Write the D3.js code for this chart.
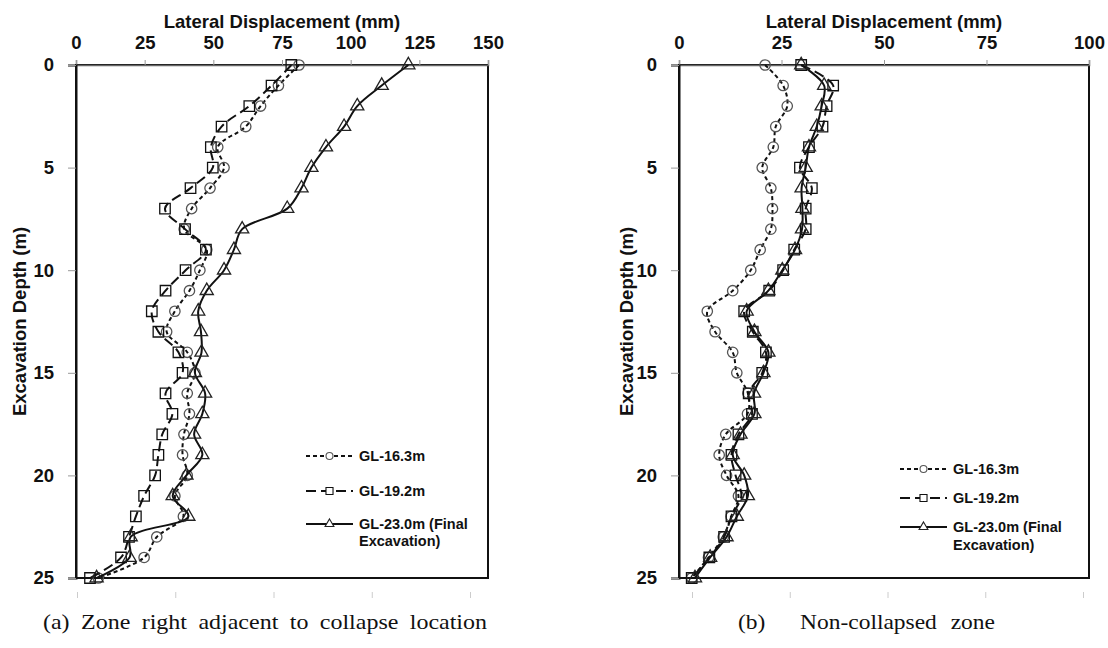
<!DOCTYPE html>
<html>
<head>
<meta charset="utf-8">
<script src="https://cdn.jsdelivr.net/npm/d3@7"></script>
<style>
  body { margin: 0; background: #fff; }
  svg { display: block; }
  text { font-family: "Liberation Sans", Arial, sans-serif; }
  .caption { font-family: "Liberation Serif", "Times New Roman", serif; }
</style>
</head>
<body>
<svg id="chart" width="1108" height="648"></svg>
<script>
const depths = d3.range(0, 26);
const depthTicks = [0, 5, 10, 15, 20, 25];
const seriesNames = ["GL-16.3m", "GL-19.2m", "GL-23.0m (Final", "Excavation)"];

// (a) zone right adjacent to collapse location
const leftTicks = [0, 25, 50, 75, 100, 125, 150];
const leftGL163 = [81.2, 73.7, 67.2, 61.8, 51.6, 53.9, 48.8, 42.1, 39.4, 47.6, 45.1, 41.3, 36.0, 33.0, 40.5, 43.3, 40.5, 41.3, 39.3, 38.8, 40.5, 36.0, 39.1, 29.4, 24.8, 8.1];
const leftGL192 = [78.4, 71.2, 63.1, 53.0, 49.1, 49.8, 41.7, 32.4, 39.7, 47.3, 39.9, 32.6, 27.6, 30.0, 37.3, 38.8, 32.6, 35.1, 31.4, 30.0, 28.8, 24.8, 21.8, 19.3, 16.4, 5.1];
const leftGL230 = [121.0, 111.3, 102.4, 97.6, 91.0, 85.7, 82.1, 76.9, 60.5, 57.5, 53.9, 47.6, 44.5, 45.5, 45.7, 43.3, 47.0, 46.0, 43.0, 46.0, 40.2, 35.2, 40.9, 19.9, 19.5, 7.5];

// (b) non-collapsed zone
const rightTicks = [0, 25, 50, 75, 100];
const rightGL163 = [21.0, 25.4, 26.4, 23.6, 23.0, 20.3, 22.4, 22.8, 22.4, 19.8, 17.5, 13.1, 6.9, 8.8, 13.1, 14.1, 16.8, 16.7, 11.4, 9.8, 11.6, 14.5, 12.7, 10.8, 7.2, 3.1];
const rightGL192 = [29.8, 37.6, 36.0, 35.0, 31.7, 29.5, 32.4, 30.9, 30.9, 28.1, 25.4, 22.0, 15.9, 18.0, 21.2, 20.3, 17.0, 17.8, 14.5, 12.8, 13.8, 15.2, 12.8, 11.0, 7.4, 3.1];
const rightGL230 = [29.8, 35.4, 34.8, 33.6, 31.7, 30.9, 29.9, 30.1, 30.0, 28.3, 25.2, 21.8, 16.5, 18.4, 21.8, 20.6, 18.3, 18.4, 15.0, 13.1, 15.9, 16.8, 14.1, 11.6, 7.6, 3.9];

const svg = d3.select("#chart");

const styles = [
  { symbol: d3.symbolCircle, size: 85, dash: "4,3", marker: "#555" },
  { symbol: d3.symbolSquare, size: 110, dash: "10,5", marker: "#111" },
  { symbol: d3.symbolTriangle, size: 75, dash: null, marker: "#222" },
];

const FS = 18.5;

const drawPanel = ({ left, right, top, bottom, ticks, series, titleY, legend, ghost, yTitleX, caption }) => {
  const x = d3.scaleLinear().domain(d3.extent(ticks)).range([left, right]);
  const y = d3.scaleLinear().domain([0, 25]).range([top, bottom]);
  const g = svg.append("g");

  // frame
  g.append("rect")
    .attr("x", left).attr("y", top)
    .attr("width", right - left).attr("height", bottom - top)
    .attr("fill", "none").attr("stroke", "#111").attr("stroke-width", 2);

  const xAxis = g.append("g")
    .attr("transform", `translate(0,${top})`)
    .call(d3.axisTop(x).tickValues(ticks).tickSize(5).tickPadding(11));
  xAxis.select(".domain").attr("stroke", "#666").attr("stroke-width", 1.5);
  xAxis.selectAll(".tick line").attr("stroke", "#999");
  xAxis.selectAll("text")
    .attr("font-size", FS).attr("font-weight", "bold")
    .attr("font-family", "Liberation Sans, Arial, sans-serif").attr("fill", "#111");

  const yAxis = g.append("g")
    .attr("transform", `translate(${left},0)`)
    .call(d3.axisLeft(y).tickValues(depthTicks).tickSize(8).tickPadding(14));
  yAxis.select(".domain").attr("stroke", "#111").attr("stroke-width", 2);
  yAxis.selectAll(".tick line").attr("stroke", "#999");
  yAxis.selectAll("text")
    .attr("font-size", FS).attr("font-weight", "bold")
    .attr("font-family", "Liberation Sans, Arial, sans-serif").attr("fill", "#111");

  // faint leftover ticks under the plot
  const gx = d3.scaleLinear().domain([0, 4]).range(ghost);
  const gAxis = g.append("g")
    .attr("transform", `translate(0,${bottom + 14})`)
    .call(d3.axisBottom(gx).ticks(4).tickSize(6).tickFormat(""));
  gAxis.select(".domain").remove();
  gAxis.selectAll(".tick line").attr("stroke", "#ccc");

  g.append("text")
    .attr("x", (left + right) / 2).attr("y", titleY)
    .attr("text-anchor", "middle")
    .attr("font-size", FS).attr("font-weight", "bold").attr("fill", "#111")
    .text("Lateral Displacement (mm)");

  g.append("text")
    .attr("transform", `translate(${yTitleX},${(top + bottom) / 2}) rotate(-90)`)
    .attr("text-anchor", "middle")
    .attr("dy", "0.35em")
    .attr("font-size", FS).attr("font-weight", "bold").attr("fill", "#111")
    .text("Excavation Depth (m)");

  const line = d3.line()
    .curve(d3.curveCatmullRom.alpha(0.5))
    .x((d) => x(d[1]))
    .y((d) => y(d[0]));

  series.forEach((values, i) => {
    const st = styles[i];
    const pts = depths.map((d, k) => [d, values[k]]);
    g.append("path")
      .attr("d", line(pts))
      .attr("fill", "none")
      .attr("stroke", "#111")
      .attr("stroke-width", 2)
      .attr("stroke-dasharray", st.dash);
    g.selectAll(null)
      .data(pts)
      .join("path")
      .attr("transform", (d) => `translate(${x(d[1])},${y(d[0])})`)
      .attr("d", d3.symbol(st.symbol, st.size))
      .attr("fill", "none")
      .attr("stroke", st.marker)
      .attr("stroke-width", 1.3);
  });

  // legend
  const lg = g.append("g");
  legend.rows.forEach((ry, i) => {
    const st = styles[i];
    lg.append("line")
      .attr("x1", legend.x1).attr("x2", legend.x2)
      .attr("y1", ry).attr("y2", ry)
      .attr("stroke", "#111").attr("stroke-width", 2)
      .attr("stroke-dasharray", st.dash);
    lg.append("path")
      .attr("transform", `translate(${(legend.x1 + legend.x2) / 2},${ry})`)
      .attr("d", d3.symbol(st.symbol, st.size * 0.45))
      .attr("fill", "#fff")
      .attr("stroke", st.marker)
      .attr("stroke-width", 1.1);
    lg.append("text")
      .attr("x", legend.tx).attr("y", ry)
      .attr("dy", "0.35em")
      .attr("font-size", 14.5).attr("font-weight", "bold").attr("fill", "#111")
      .text(seriesNames[i]);
  });
  lg.append("text")
    .attr("x", legend.tx).attr("y", legend.rows[2] + legend.extra)
    .attr("dy", "0.35em")
    .attr("font-size", 14.5).attr("font-weight", "bold").attr("fill", "#111")
    .text(seriesNames[3]);

  svg.append("text")
    .attr("class", "caption")
    .attr("x", caption.x).attr("y", 629)
    .attr("font-size", 22)
    .attr("fill", "#111")
    .style("white-space", "pre")
    .attr("word-spacing", caption.ws)
    .attr("textLength", caption.len)
    .attr("lengthAdjust", "spacingAndGlyphs")
    .text(caption.text);
};

drawPanel({
  left: 76, right: 488, top: 65, bottom: 578,
  ticks: leftTicks,
  series: [leftGL163, leftGL192, leftGL230],
  titleY: 28,
  yTitleX: 20,
  ghost: [77, 470],
  legend: { x1: 306, x2: 353, tx: 359, rows: [456, 491, 524], extra: 17 },
  caption: { x: 43, len: 444, text: "(a) Zone right adjacent to collapse location", ws: 5 },
});

drawPanel({
  left: 679, right: 1089, top: 65, bottom: 578,
  ticks: rightTicks,
  series: [rightGL163, rightGL192, rightGL230],
  titleY: 28,
  yTitleX: 627,
  ghost: [692, 1083],
  legend: { x1: 900, x2: 947, tx: 953, rows: [469, 498, 527], extra: 18 },
  caption: { x: 738, len: 257, text: "(b)     Non-collapsed  zone", ws: 1 },
});
</script>
</body>
</html>
